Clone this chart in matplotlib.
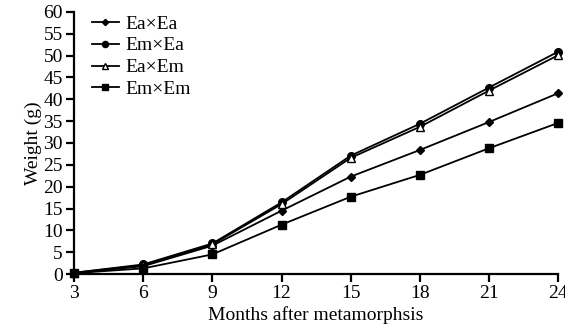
import matplotlib
matplotlib.use("Agg")
import matplotlib.pyplot as plt

months = [3, 6, 9, 12, 15, 18, 21, 24]
ea_ea = [0.2, 1.8, 6.5, 14.5, 22.3, 28.4, 34.8, 41.4]
em_ea = [0.3, 2.2, 7.0, 16.4, 27.1, 34.4, 42.7, 50.9]
ea_em = [0.3, 2.0, 6.8, 16.0, 26.6, 33.7, 42.0, 50.1]
em_em = [0.2, 1.3, 4.5, 11.3, 17.7, 22.7, 28.8, 34.6]
yticks = list(range(0, 61, 5))

plt.rcParams["font.family"] = ["Liberation Serif", "DejaVu Serif"]
plt.rcParams["font.size"] = 14

fig = plt.figure(figsize=(5.65, 3.31), dpi=100)
ax = fig.add_axes([0.131, 0.172, 0.857, 0.792])

ax.plot(months, ea_ea, color="black", lw=1.3, marker="D", ms=4, label="Ea×Ea", clip_on=False)
ax.plot(months, em_ea, color="black", lw=1.3, marker="o", ms=5.5, label="Em×Ea", clip_on=False)
ax.plot(months, ea_em, color="black", lw=1.3, marker="^", ms=5.5, mfc="white", label="Ea×Em", clip_on=False)
ax.plot(months, em_em, color="black", lw=1.3, marker="s", ms=5.5, label="Em×Em", clip_on=False)

ax.set_xlim(3, 24)
ax.set_ylim(0, 60)
ax.set_xticks(months)
ax.set_yticks(yticks)
for s in ["top", "right"]:
    ax.spines[s].set_visible(False)
for s in ["left", "bottom"]:
    ax.spines[s].set_linewidth(1.6)
ax.tick_params(width=1.6, length=6, pad=2, labelsize=14)

ax.set_xlabel("Months after metamorphsis", fontsize=14, labelpad=3)
ax.set_ylabel("Weight (g)", fontsize=14, labelpad=1)

leg = ax.legend(loc="upper left", bbox_to_anchor=(0.0, 1.055), frameon=False,
                handlelength=1.4, handletextpad=0.35, labelspacing=0.22,
                fontsize=14, markerscale=0.8)

fig.savefig("out.png", dpi=100)
